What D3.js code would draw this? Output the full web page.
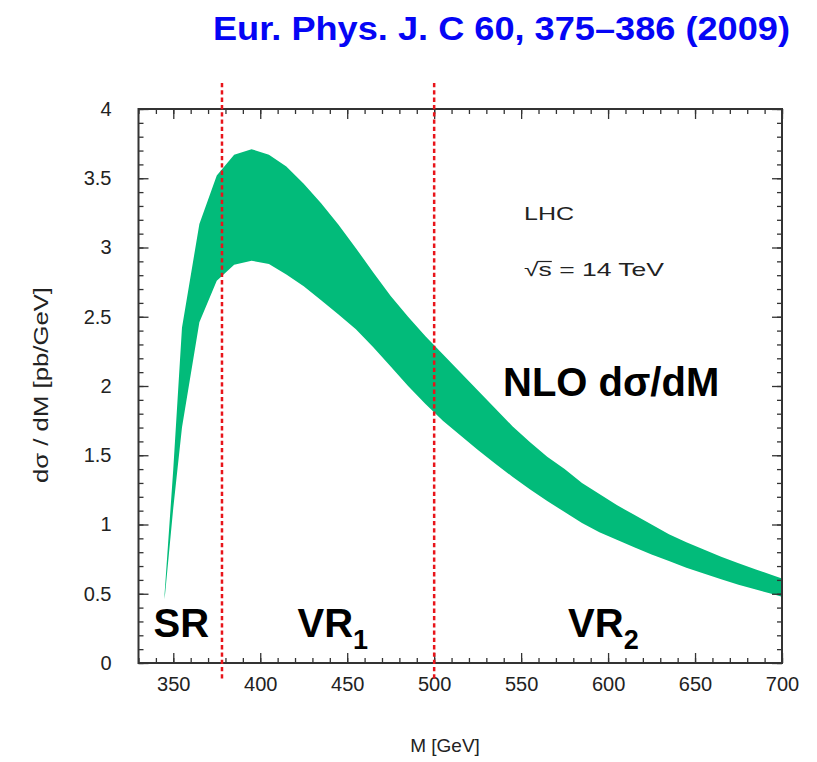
<!DOCTYPE html>
<html>
<head>
<meta charset="utf-8">
<script src="https://cdn.jsdelivr.net/npm/d3@7"></script>
<style>
  html, body { margin: 0; padding: 0; background: #fff; }
  svg { display: block; }
  text { font-family: "Liberation Sans", Arial, Helvetica, sans-serif; }
</style>
</head>
<body>
<svg id="chart" width="817" height="762"></svg>
<script>
// ---- data ----
const mass  = [345, 350, 355, 365, 375, 385, 395, 405, 415, 425, 435, 445, 455, 465, 475, 485, 495,
               505, 515, 525, 535, 545, 555, 565, 575, 585, 595, 605, 615, 625, 635, 645, 655, 665,
               675, 685, 695, 700];
const upper = [0.50, 1.40, 2.42, 3.17, 3.52, 3.67, 3.71, 3.67, 3.585, 3.46, 3.32, 3.165, 2.995, 2.82, 2.65, 2.50, 2.36,
               2.23, 2.10, 1.97, 1.84, 1.71, 1.595, 1.49, 1.40, 1.30, 1.22, 1.14, 1.07, 1.00, 0.93, 0.871, 0.82, 0.767,
               0.72, 0.675, 0.632, 0.611];
const lower = [0.46, 1.12, 1.70, 2.46, 2.76, 2.875, 2.905, 2.88, 2.805, 2.72, 2.62, 2.516, 2.41, 2.28, 2.14, 2.00, 1.87,
               1.75, 1.645, 1.54, 1.44, 1.345, 1.255, 1.17, 1.09, 1.01, 0.944, 0.89, 0.835, 0.784, 0.736, 0.688, 0.646, 0.604,
               0.565, 0.53, 0.496, 0.479];
const xTicks = [350, 400, 450, 500, 550, 600, 650, 700];
const yTicks = [0, 0.5, 1, 1.5, 2, 2.5, 3, 3.5, 4];
const xMinorTicks = d3.range(330, 701, 10);
const yMinorTicks = d3.range(0, 41, 1).map(d => d / 10);
const regionEdges = [378, 500];
const regionNames = [{name: "SR", sub: "", m: 338.6}, {name: "VR", sub: "1", m: 421.4}, {name: "VR", sub: "2", m: 577}];

// ---- layout ----
const svg = d3.select("#chart");
const L = 138.5, R = 782, T = 109, B = 663;
const x = d3.scaleLinear().domain([330, 700]).range([L, R]);
const y = d3.scaleLinear().domain([0, 4]).range([B, T]);

// title
svg.append("text")
  .attr("x", 213).attr("y", 40)
  .attr("font-size", 33).attr("font-weight", "bold")
  .attr("fill", "#0505f5")
  .attr("textLength", 577).attr("lengthAdjust", "spacingAndGlyphs")
  .text("Eur. Phys. J. C 60, 375\u2013386 (2009)");

// band
const band = mass.map((m, i) => ({m, lo: lower[i], hi: upper[i]}));
svg.append("path")
  .datum(band)
  .attr("fill", "#02bb7a")
  .attr("d", d3.area().x(d => x(d.m)).y0(d => y(d.lo)).y1(d => y(d.hi)));

// axes
const axisColor = "#333";
function styleAxis(g) {
  g.select(".domain").remove();
  g.attr("font-size", 20);
  g.selectAll(".tick line").attr("stroke", axisColor).attr("stroke-width", 1.3);
  g.selectAll(".tick text").attr("fill", "#222").attr("font-size", 20)
    .attr("font-family", "Liberation Sans, Arial, sans-serif");
}
// bottom
svg.append("g").attr("transform", `translate(0,${B})`)
  .call(d3.axisBottom(x).tickValues(xMinorTicks).tickSize(-5).tickFormat("")).call(styleAxis);
svg.append("g").attr("transform", `translate(0,${B})`)
  .call(d3.axisBottom(x).tickValues(xTicks).tickSize(-10).tickPadding(14).tickFormat(d3.format("d"))).call(styleAxis);
// top
svg.append("g").attr("transform", `translate(0,${T})`)
  .call(d3.axisTop(x).tickValues(xMinorTicks).tickSize(-5).tickFormat("")).call(styleAxis);
svg.append("g").attr("transform", `translate(0,${T})`)
  .call(d3.axisTop(x).tickValues(xTicks).tickSize(-10).tickFormat("")).call(styleAxis);
// left
svg.append("g").attr("transform", `translate(${L},0)`)
  .call(d3.axisLeft(y).tickValues(yMinorTicks).tickSize(-5).tickFormat("")).call(styleAxis);
svg.append("g").attr("transform", `translate(${L},0)`)
  .call(d3.axisLeft(y).tickValues(yTicks).tickSize(-10).tickPadding(27).tickFormat(d => String(d))).call(styleAxis);
// right
svg.append("g").attr("transform", `translate(${R},0)`)
  .call(d3.axisRight(y).tickValues(yMinorTicks).tickSize(-5).tickFormat("")).call(styleAxis);
svg.append("g").attr("transform", `translate(${R},0)`)
  .call(d3.axisRight(y).tickValues(yTicks).tickSize(-10).tickFormat("")).call(styleAxis);

// frame
svg.append("rect")
  .attr("x", L).attr("y", T).attr("width", R - L).attr("height", B - T)
  .attr("fill", "none").attr("stroke", axisColor).attr("stroke-width", 2);

// region separators (red dotted)
svg.selectAll("line.edge").data(regionEdges).join("line")
  .attr("class", "edge")
  .attr("x1", d => x(d)).attr("x2", d => x(d))
  .attr("y1", 83).attr("y2", 679)
  .attr("stroke", "#e8141a").attr("stroke-width", 2.5)
  .attr("stroke-dasharray", "4.3,3");

// region labels
const rl = svg.selectAll("text.region").data(regionNames).join("text")
  .attr("class", "region")
  .attr("x", d => x(d.m)).attr("y", 637)
  .attr("font-size", 40).attr("font-weight", "bold").attr("fill", "#000");
rl.append("tspan").text(d => d.name);
rl.append("tspan").attr("font-size", 27).attr("dy", 12).text(d => d.sub);

// axis titles
svg.append("text")
  .attr("x", 445).attr("y", 752).attr("text-anchor", "middle")
  .attr("font-size", 19).attr("fill", "#222").text("M [GeV]");
svg.append("text")
  .attr("transform", "translate(48,385) rotate(-90)")
  .attr("text-anchor", "middle")
  .attr("font-size", 21).attr("fill", "#222")
  .attr("textLength", 196).attr("lengthAdjust", "spacingAndGlyphs")
  .text("d\u03c3 / dM [pb/GeV]");

// annotations
svg.append("text").attr("x", 524).attr("y", 220)
  .attr("font-size", 18.5).attr("fill", "#222")
  .attr("textLength", 50).attr("lengthAdjust", "spacingAndGlyphs")
  .text("LHC");
const sq = svg.append("text").attr("x", 524).attr("y", 276)
  .attr("font-size", 18.5).attr("fill", "#222")
  .attr("textLength", 140).attr("lengthAdjust", "spacingAndGlyphs")
  .text("\u221as = 14 TeV");
// overbar of the square root, placed over the "s"
{
  const node = sq.node();
  const r0 = node.getExtentOfChar(0);
  const r1 = node.getExtentOfChar(1);
  svg.append("line")
    .attr("x1", r0.x + r0.width - 1).attr("x2", r1.x + r1.width)
    .attr("y1", 261.5).attr("y2", 261.5)
    .attr("stroke", "#222").attr("stroke-width", 1.2);
}

svg.append("text").attr("x", 503).attr("y", 396)
  .attr("font-size", 40).attr("font-weight", "bold").attr("fill", "#000")
  .text("NLO d\u03c3/dM");
</script>
</body>
</html>
